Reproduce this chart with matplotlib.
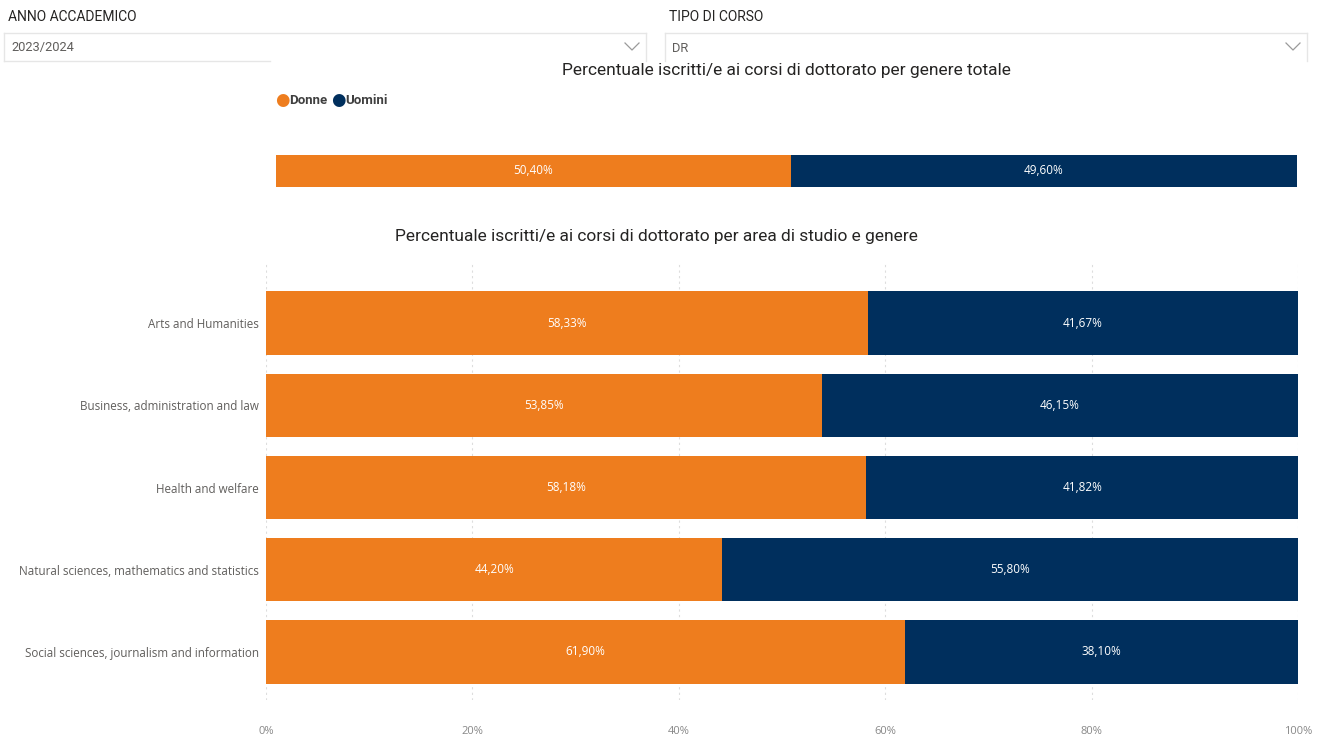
import matplotlib.pyplot as plt
from matplotlib.lines import Line2D

W, H = 1329, 738

# data
categories = [
    "Arts and Humanities",
    "Business, administration and law",
    "Health and welfare",
    "Natural sciences, mathematics and statistics",
    "Social sciences, journalism and information",
]
donne = [58.33, 53.85, 58.18, 44.20, 61.90]
uomini = [41.67, 46.15, 41.82, 55.80, 38.10]
totale_donne = [50.40]
totale_uomini = [49.60]
xticks = [0, 20, 40, 60, 80, 100]
xtick_labels = ["0%", "20%", "40%", "60%", "80%", "100%"]

ORANGE = "#EE7D1E"
NAVY = "#002F5D"
GRAY_LBL = "#605E5C"
TITLE_FONT = "Roboto"
BODY_FONT = "Open Sans"


def fx(px):
    return px / W


def fy(py):
    return 1 - py / H


def pct(v):
    return f"{v:.2f}".replace(".", ",") + "%"


fig = plt.figure(figsize=(W / 100, H / 100), dpi=100)
fig.patch.set_facecolor("white")

# slicers at the top
for x0, x1, label, value, bottom_end in [(4, 646, "ANNO ACCADEMICO", "2023/2024", 270),
                                          (665, 1307, "TIPO DI CORSO", "DR", None)]:
    fig.text(fx(x0 + 4), fy(17), label, fontsize=10, family=TITLE_FONT,
             color="#252423", va="center")
    fig.text(fx(x0 + 7), fy(48), value, fontsize=9.3, family=TITLE_FONT,
             color="#605E5C", va="center")
    lc = "#E6E6E6"
    fig.add_artist(Line2D([fx(x0), fx(x1)], [fy(33), fy(33)], color=lc, lw=1))
    fig.add_artist(Line2D([fx(x0), fx(x0)], [fy(33), fy(61)], color=lc, lw=1))
    fig.add_artist(Line2D([fx(x1), fx(x1)], [fy(33), fy(61)], color=lc, lw=1))
    if bottom_end:
        fig.add_artist(Line2D([fx(x0), fx(bottom_end)], [fy(61), fy(61)], color=lc, lw=1))
    cx = x1 - 14
    fig.add_artist(Line2D([fx(cx - 7), fx(cx), fx(cx + 7)], [fy(43), fy(50), fy(43)],
                          color="#9A9A9A", lw=0.9))

# titles
fig.text(fx(786), fy(70), "Percentuale iscritti/e ai corsi di dottorato per genere totale",
         fontsize=12.5, family=TITLE_FONT, color="#252423", ha="center", va="center")
fig.text(fx(656), fy(237), "Percentuale iscritti/e ai corsi di dottorato per area di studio e genere",
         fontsize=12.5, family=TITLE_FONT, color="#252423", ha="center", va="center")

# legend
fig.text(fx(275), fy(100), "\u25cf", fontsize=12, color=ORANGE, va="center", family="DejaVu Sans")
fig.text(fx(289), fy(100), "Donne", fontsize=9.5, color="#404040", va="center",
         family=TITLE_FONT, weight="bold")
fig.text(fx(331), fy(100), "\u25cf", fontsize=12, color=NAVY, va="center", family="DejaVu Sans")
fig.text(fx(345), fy(100), "Uomini", fontsize=9.5, color="#404040", va="center",
         family=TITLE_FONT, weight="bold")

# total bar
ax1 = fig.add_axes([fx(276), fy(187), fx(1297) - fx(276), (187 - 155) / H])
ax1.barh([0], totale_donne, height=1, color=ORANGE)
ax1.barh([0], totale_uomini, left=totale_donne, height=1, color=NAVY)
ax1.set_xlim(0, 100)
ax1.set_ylim(-0.5, 0.5)
ax1.axis("off")
ax1.text(totale_donne[0] / 2, 0, pct(totale_donne[0]), color="white", ha="center",
         va="center", fontsize=8.5, family=BODY_FONT)
ax1.text(totale_donne[0] + totale_uomini[0] / 2, 0, pct(totale_uomini[0]), color="white",
         ha="center", va="center", fontsize=8.5, family=BODY_FONT)

# area bars
ax2 = fig.add_axes([fx(266), fy(700), fx(1298) - fx(266), (700 - 262) / H])
ypos = list(range(len(categories)))
ax2.barh(ypos, donne, height=0.77, color=ORANGE, zorder=2)
ax2.barh(ypos, uomini, left=donne, height=0.77, color=NAVY, zorder=2)
for y, d, u in zip(ypos, donne, uomini):
    ax2.text(d / 2, y, pct(d), color="white", ha="center", va="center",
             fontsize=8.5, family=BODY_FONT, zorder=3)
    ax2.text(d + u / 2, y, pct(u), color="white", ha="center", va="center",
             fontsize=8.5, family=BODY_FONT, zorder=3)
ax2.set_xlim(0, 100)
ax2.set_ylim(4 + 48 / 82, -61 / 82)
ax2.set_yticks(ypos)
ax2.set_yticklabels(categories, fontsize=8.4, family=BODY_FONT, color=GRAY_LBL)
ax2.set_xticks(xticks)
ax2.set_xticklabels(xtick_labels, fontsize=8, family=BODY_FONT, color="#888888")
ax2.tick_params(axis="both", length=0)
ax2.tick_params(axis="y", pad=5)
ax2.tick_params(axis="x", pad=19)
ax2.grid(axis="x", color="#DDDDDD", linestyle=(0, (2, 3)), lw=0.8, zorder=0)
for s in ax2.spines.values():
    s.set_visible(False)

fig.savefig("out.png", dpi=100, facecolor="white")
